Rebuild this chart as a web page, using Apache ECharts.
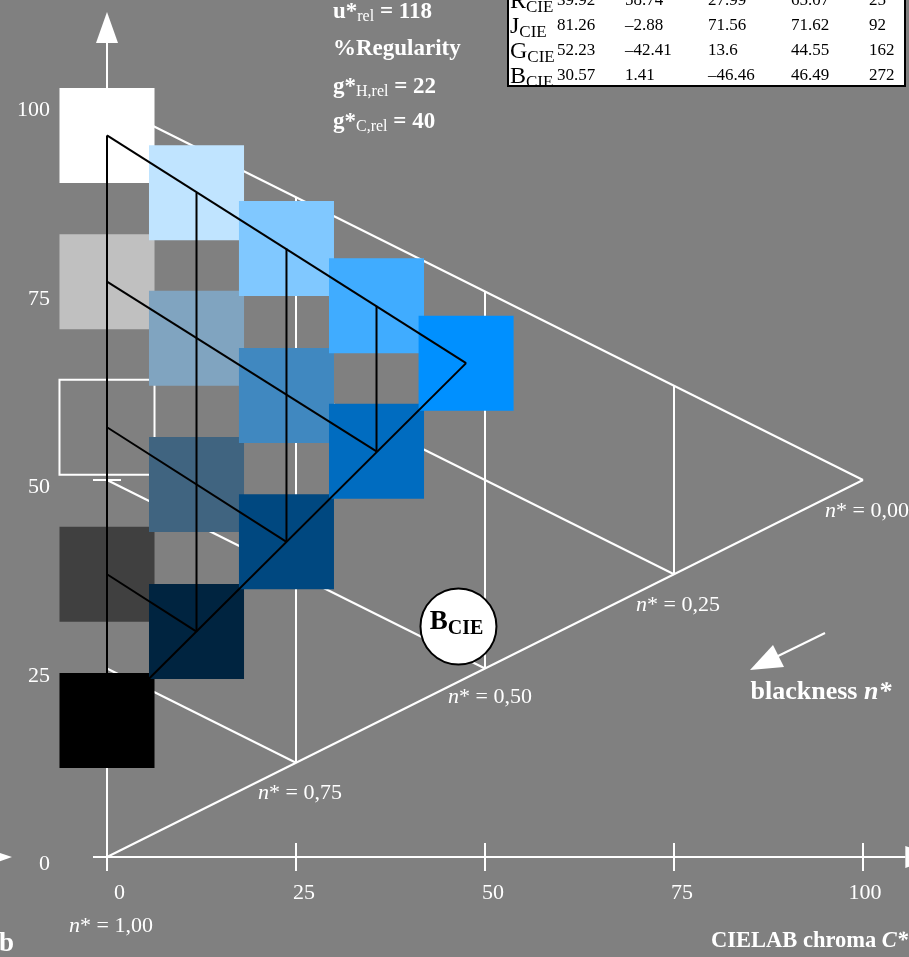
<!DOCTYPE html>
<html>

<head>
    <meta http-equiv="Content-Type" content="text/html; charset=utf-8" />
    <title>CIELAB blackness n*</title>
    <style type="text/css">
    body,
    html {
        width: 100%;
        height: 100%;
        margin: 0;
        overflow: hidden;
        background: #808080;
    }

    #container {
        width: 909px;
        height: 957px;
    }
    </style>
</head>

<body>
    <div id="container"></div>
</body>
<script src="https://cdn.jsdelivr.net/npm/echarts@6/dist/echarts.min.js"></script>
<script>
var FONT = '"Liberation Serif", "DejaVu Serif", serif';

// axis ticks (y axis only shows a tick mark at 0 and 50)
var xTicks = [0, 25, 50, 75, 100];
var yTicks = [0, 50];

// colour samples: chroma C*, lightness, colour
var sampleC = [0, 0, 0, 0, 0, 11.84, 11.84, 11.84, 11.84, 23.74, 23.74, 23.74, 35.65, 35.65, 47.5];
var sampleL = [95.7, 76.3, 57.0, 37.5, 18.1, 88.1, 68.8, 49.4, 29.9, 80.7, 61.2, 41.8, 73.1, 53.8, 65.5];
var sampleColor = ['#ffffff', '#c0c0c0', '#808080', '#404040', '#000000',
    '#c0e4ff', '#80a4c0', '#406480', '#002440',
    '#80c8ff', '#4088c0', '#004880',
    '#40acff', '#006cc0',
    '#0090ff'];

// white frame: n* = const lines and columns [C1, L1, C2, L2]
var frameLines = [
    [0, 100, 100, 50],
    [0, 75, 75, 37.5],
    [0, 50, 50, 25],
    [0, 25, 25, 12.5],
    [0, 0, 100, 50],
    [25, 12.5, 25, 87.5],
    [50, 25, 50, 75],
    [75, 37.5, 75, 62.5]
];

// black net through the sample centres
var netLines = [
    [0, 95.7, 47.5, 65.5],
    [0, 18.1, 47.5, 65.5],
    [0, 95.7, 0, 18.1],
    [0, 76.3, 35.65, 53.8],
    [0, 57.0, 23.74, 41.8],
    [0, 37.5, 11.84, 29.9],
    [11.84, 88.1, 11.84, 29.9],
    [23.74, 80.7, 23.74, 41.8],
    [35.65, 73.1, 35.65, 53.8]
];

// B_CIE point (C*, L*)
var bCie = [46.49, 30.57];

// table of CIE colours
var tableNames = ['R', 'J', 'G', 'B'];
var tableL = [39.92, 81.26, 52.23, 30.57];
var tableA = [58.74, -2.88, -42.41, 1.41];
var tableB = [27.99, 71.56, 13.6, -46.46];
var tableC = [65.07, 71.62, 44.55, 46.49];
var tableH = [25, 92, 162, 272];

var nLabels = ['1,00', '0,75', '0,50', '0,25', '0,00'];

var chartDom = document.getElementById('container');
var myChart = echarts.init(chartDom);

function segRender(color) {
    return function(params, api) {
        var p1 = api.coord([api.value(0), api.value(1)]);
        var p2 = api.coord([api.value(2), api.value(3)]);
        return {
            type: 'line',
            shape: { x1: p1[0], y1: p1[1], x2: p2[0], y2: p2[1] },
            style: { stroke: color, lineWidth: 2 }
        };
    };
}

function line(x1, y1, x2, y2, w) {
    return { type: 'line', shape: { x1: x1, y1: y1, x2: x2, y2: y2 }, style: { stroke: '#fff', lineWidth: w || 2 } };
}

function txt(x, y, text, style) {
    return {
        type: 'text',
        x: x,
        y: y,
        z: 20,
        style: Object.assign({
            text: text,
            fill: '#fff',
            fontFamily: FONT,
            fontSize: 22,
            align: 'left',
            verticalAlign: 'middle'
        }, style || {})
    };
}

function fmt(v) {
    return v < 0 ? '\u2013' + Math.abs(v) : String(v);
}

var graphics = [];

// table
graphics.push({
    type: 'rect',
    z: 15,
    shape: { x: 508, y: -10, width: 397, height: 96 },
    style: { fill: '#fff', stroke: '#000', lineWidth: 2 }
});
var colX = [557, 625, 708, 791, 869];
tableNames.forEach(function(name, i) {
    var y = 1 + i * 25;
    graphics.push(txt(510, y + 1, '{m|' + name + '}{s|CIE}', {
        rich: {
            m: { fontFamily: FONT, fontSize: 24, fill: '#000', lineHeight: 28 },
            s: { fontFamily: FONT, fontSize: 17, fill: '#000', lineHeight: 16, verticalAlign: 'bottom' }
        }
    }));
    [tableL[i], tableA[i], tableB[i], tableC[i], tableH[i]].forEach(function(v, j) {
        graphics.push(txt(colX[j], y, fmt(v), { fill: '#000', fontSize: 17 }));
    });
});

// heading texts
var headRich = {
    m: { fontFamily: FONT, fontSize: 23, fontWeight: 'bold', fill: '#fff', lineHeight: 26 },
    s: { fontFamily: FONT, fontSize: 16, fill: '#fff', lineHeight: 14, verticalAlign: 'bottom' }
};
graphics.push(txt(333, 12, '{m|u*}{s|rel}{m| = 118}', { rich: headRich }));
graphics.push(txt(333, 49, '%Regularity', { fontSize: 23, fontWeight: 'bold' }));
graphics.push(txt(333, 87, '{m|g*}{s|H,rel}{m| = 22}', { rich: headRich }));
graphics.push(txt(333, 122, '{m|g*}{s|C,rel}{m| = 40}', { rich: headRich }));

// n* labels
var nRich = {
    i: { fontFamily: FONT, fontSize: 22, fontStyle: 'italic', fill: '#fff' },
    r: { fontFamily: FONT, fontSize: 22, fill: '#fff' }
};
var nPos = [[111, 926, 'center'], [300, 793, 'center'], [490, 697, 'center'], [678, 605, 'center'], [825, 511, 'left']];
nLabels.forEach(function(s, i) {
    graphics.push(txt(nPos[i][0], nPos[i][1], '{i|n}{r|* = ' + s + '}', { rich: nRich, align: nPos[i][2] }));
});

// blackness arrow
graphics.push({ type: 'line', z: 20, shape: { x1: 825, y1: 633, x2: 776, y2: 657 }, style: { stroke: '#fff', lineWidth: 2 } });
graphics.push({ type: 'polygon', z: 20, shape: { points: [[750, 670], [773, 645], [784, 667]] }, style: { fill: '#fff' } });
graphics.push(txt(821, 692, '{b|blackness }{bi|n*}', {
    align: 'center',
    rich: {
        b: { fontFamily: FONT, fontSize: 26, fontWeight: 'bold', fill: '#fff' },
        bi: { fontFamily: FONT, fontSize: 26, fontWeight: 'bold', fontStyle: 'italic', fill: '#fff' }
    }
}));
graphics.push(txt(711, 941, '{b|CIELAB chroma }{bi|C*}', {
    rich: {
        b: { fontFamily: FONT, fontSize: 22.5, fontWeight: 'bold', fill: '#fff' },
        bi: { fontFamily: FONT, fontSize: 22.5, fontWeight: 'bold', fontStyle: 'italic', fill: '#fff' }
    }
}));
graphics.push(txt(-1, 944, 'b', { fontSize: 27, fontWeight: 'bold' }));
// stray arrow tip at left edge
graphics.push({ type: 'polygon', z: 20, shape: { points: [[12, 857], [-20, 846], [-20, 868]] }, style: { fill: '#fff' } });

var option = {
    backgroundColor: '#808080',
    animation: false,
    grid: { left: 107, right: 46, top: 103, bottom: 100, containLabel: false, outerBoundsMode: 'none' },
    xAxis: {
        type: 'value',
        min: 0,
        max: 100,
        interval: 25,
        axisLine: { show: false },
        axisTick: { show: false },
        splitLine: { show: false },
        axisLabel: {
            margin: 25,
            formatter: function(v) {
                return v === 0 ? '{z|0}' : (v === 100 ? '{c|100}' : '{a|' + v + '}');
            },
            rich: {
                z: { fontFamily: FONT, fontSize: 22, color: '#fff', padding: [0, 0, 0, 25] },
                a: { fontFamily: FONT, fontSize: 22, color: '#fff', padding: [0, 0, 0, 16] },
                c: { fontFamily: FONT, fontSize: 22, color: '#fff', padding: [0, 0, 0, 4] }
            }
        }
    },
    yAxis: {
        type: 'value',
        min: 0,
        max: 100,
        interval: 25,
        axisLine: { show: false },
        axisTick: { show: false },
        splitLine: { show: false },
        axisLabel: {
            margin: 57,
            formatter: function(v) {
                return '{a|' + v + '}';
            },
            rich: {
                a: { fontFamily: FONT, fontSize: 22, color: '#fff', padding: [15, 0, 0, 0] }
            }
        }
    },
    graphic: graphics,
    series: [{
            // axes with arrows and ticks
            type: 'custom',
            silent: true,
            z: 1,
            data: [[0, 0]],
            renderItem: function(params, api) {
                var o = api.coord([0, 0]);
                var xs = api.coord([-1.85, 0]);
                var xe = api.coord([105.6, 0]);
                var ye = api.coord([0, 107.96]);
                var kids = [
                    line(xs[0], o[1], xe[0], o[1]),
                    line(o[0], o[1], o[0], ye[1]),
                    { type: 'polygon', shape: { points: [[o[0], ye[1] - 31], [o[0] - 11, ye[1]], [o[0] + 11, ye[1]]] }, style: { fill: '#fff' } },
                    { type: 'polygon', shape: { points: [[xe[0] + 32, o[1]], [xe[0], o[1] - 11], [xe[0], o[1] + 11]] }, style: { fill: '#fff' } }
                ];
                xTicks.forEach(function(v) {
                    var p = api.coord([v, 0]);
                    kids.push(line(p[0], p[1] - 14, p[0], p[1] + 14));
                });
                yTicks.forEach(function(v) {
                    var p = api.coord([0, v]);
                    kids.push(line(p[0] - 14, p[1], p[0] + 14, p[1]));
                });
                return { type: 'group', children: kids };
            }
        },
        {
            // white frame
            type: 'custom',
            silent: true,
            z: 2,
            data: frameLines,
            renderItem: segRender('#fff')
        },
        {
            // colour samples
            type: 'custom',
            silent: true,
            z: 3,
            data: sampleC.map(function(c, i) { return [c, sampleL[i]]; }),
            renderItem: function(params, api) {
                var c = api.coord([api.value(0), api.value(1)]);
                var s = api.size([12.57, 12.6]);
                var col = sampleColor[params.dataIndex];
                var outlined = col === '#808080';
                return {
                    type: 'rect',
                    shape: { x: c[0] - s[0] / 2, y: c[1] - s[1] / 2, width: s[0], height: s[1] },
                    style: { fill: col, stroke: outlined ? '#fff' : null, lineWidth: outlined ? 2 : 0 }
                };
            }
        },
        {
            // black net
            type: 'custom',
            silent: true,
            z: 4,
            data: netLines,
            renderItem: segRender('#000')
        },
        {
            // B_CIE circle
            type: 'custom',
            silent: true,
            z: 5,
            data: [bCie],
            renderItem: function(params, api) {
                var c = api.coord([api.value(0), api.value(1)]);
                return {
                    type: 'group',
                    children: [{
                        type: 'circle',
                        shape: { cx: c[0], cy: c[1], r: 38 },
                        style: { fill: '#fff', stroke: '#000', lineWidth: 2 }
                    }, {
                        type: 'text',
                        x: c[0] - 2,
                        y: c[1] - 4,
                        style: {
                            text: '{m|B}{s|CIE}',
                            align: 'center',
                            verticalAlign: 'middle',
                            rich: {
                                m: { fontFamily: FONT, fontSize: 27, fontWeight: 'bold', fill: '#000', lineHeight: 32 },
                                s: { fontFamily: FONT, fontSize: 20, fontWeight: 'bold', fill: '#000', lineHeight: 8, verticalAlign: 'bottom' }
                            }
                        }
                    }]
                };
            }
        }
    ]
};

option && myChart.setOption(option);
</script>

</html>
